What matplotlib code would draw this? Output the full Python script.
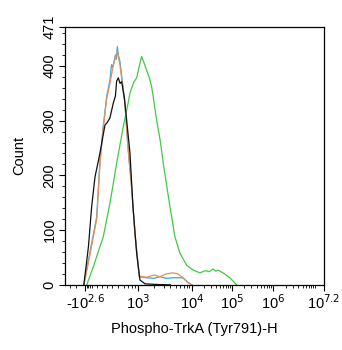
import numpy as np
import matplotlib
matplotlib.use("Agg")
import matplotlib.pyplot as plt
from matplotlib.ticker import FixedLocator

plt.rcParams['font.family'] = ['Liberation Sans', 'DejaVu Sans']

# histogram traces (intensity, count)
black_x = [-420, -200, -17, 60, 160, 259, 300, 358, 417, 450, 470, 498, 530, 561, 620, 670, 753, 838, 955, 1089, 1348, 2000, 4000]
black_y = [0, 70, 143, 197, 241, 292, 296, 305, 332, 345, 372, 378, 368, 371, 340, 301, 241, 143, 58, 9, 2, 1, 0]

blue_x = [-420, -114, 94, 160, 225, 293, 358, 390, 412, 450, 465, 481, 500, 528, 631, 702, 800, 899, 1057, 1449, 2000, 2553, 3300, 4446, 6808, 8440, 10000]
blue_y = [0, 60, 124, 228, 289, 344, 374, 402, 398, 420, 412, 435, 420, 408, 332, 252, 179, 95, 15, 13, 12, 15, 12, 13, 13, 4, 0]

orange_x = [-420, -114, 94, 160, 225, 293, 358, 412, 450, 481, 528, 631, 702, 800, 899, 1057, 1449, 2000, 2553, 3300, 4446, 5500, 6808, 8440, 10000]
orange_y = [0, 55, 120, 222, 288, 340, 368, 398, 415, 426, 402, 330, 250, 176, 92, 16, 14, 18, 15, 20, 22, 20, 13, 5, 0]

green_x = [-301, 26, 225, 358, 470, 594, 700, 753, 860, 955, 1050, 1172, 1300, 1449, 1600, 1795, 2219, 2600, 2942, 3915, 4842, 5995, 7980, 10780, 15850, 22000, 27000, 33500, 40000, 45000, 59600, 89100, 130000]
green_y = [0, 33, 88, 149, 222, 289, 330, 350, 370, 378, 398, 417, 405, 392, 380, 362, 301, 262, 222, 143, 88, 58, 36, 27, 22, 26, 24, 29, 25, 27, 22, 13, 0]

xtick_vals = [-398.1, 1e3, 1e4, 1e5, 1e6, 10 ** 7.2]
xtick_labels = [r'-10$^{2.6}$', r'10$^3$', r'10$^4$', r'10$^5$', r'10$^6$', r'10$^{7.2}$']
ytick_vals = [0, 100, 200, 300, 400, 471]

# biexponential-like display: linear around zero, log above 10^2.6
LIN = 10 ** 2.6
T_KNOTS = [-3.0, -2.6, 0.0, 2.6, 3.0, 4.0, 5.0, 6.0, 7.2]
P_KNOTS = [0.0, 20.0, 27.0, 47.0, 73.0, 127.0, 167.0, 208.0, 259.0]


def to_t(v):
	v = np.asarray(v, dtype=float)
	a = np.abs(v)
	lin = v / LIN * 2.6
	lg = np.sign(v) * np.log10(np.maximum(a, 1e-12))
	return np.where(a <= LIN, lin, lg)


def from_t(t):
	t = np.asarray(t, dtype=float)
	a = np.abs(t)
	lin = t / 2.6 * LIN
	lg = np.sign(t) * 10 ** a
	return np.where(a <= 2.6, lin, lg)


def forward(v):
	return np.interp(to_t(v), T_KNOTS, P_KNOTS)


def inverse(p):
	return from_t(np.interp(p, P_KNOTS, T_KNOTS))


fig = plt.figure(figsize=(3.42, 3.5), dpi=100)
ax = fig.add_axes([0.19, 0.186, 0.757, 0.737])
ax.set_xscale('function', functions=(forward, inverse))

ax.plot(green_x, green_y, color='#45c845', lw=0.9)
ax.plot(blue_x, blue_y, color='#3aa6dc', lw=0.9)
ax.plot(orange_x, orange_y, color='#e0925a', lw=0.9)
ax.plot(black_x, black_y, color='#111111', lw=0.9)

ax.set_xlim(-1000, 10 ** 7.2)
ax.set_ylim(0, 471)

ax.xaxis.set_major_locator(FixedLocator(xtick_vals))
ax.set_xticklabels(xtick_labels, fontsize=10.5)
minors = [-800, -600, -300, -200, -100, 0, 100, 200, 300]
for k in range(2, 7):
	for m in range(2, 10):
		if m * 10 ** k > LIN and m * 10 ** k < 10 ** 7.2:
			minors.append(m * 10 ** k)
minors += [1e7]
ax.xaxis.set_minor_locator(FixedLocator(minors))

ax.yaxis.set_major_locator(FixedLocator(ytick_vals))
ax.set_yticklabels([str(v) for v in ytick_vals], fontsize=10.5, rotation=90, va='center')
ax.yaxis.set_minor_locator(FixedLocator([v for v in range(20, 471, 20) if v % 100 != 0]))

ax.tick_params(which='major', length=4, width=0.8, direction='out', pad=2)
ax.tick_params(which='minor', length=2, width=0.6, direction='out')
for s in ax.spines.values():
	s.set_linewidth(0.9)

ax.set_xlabel('Phospho-TrkA (Tyr791)-H', fontsize=10.5, labelpad=7)
ax.set_ylabel('Count', fontsize=10.5, labelpad=12)

fig.savefig('out.png', dpi=100)
